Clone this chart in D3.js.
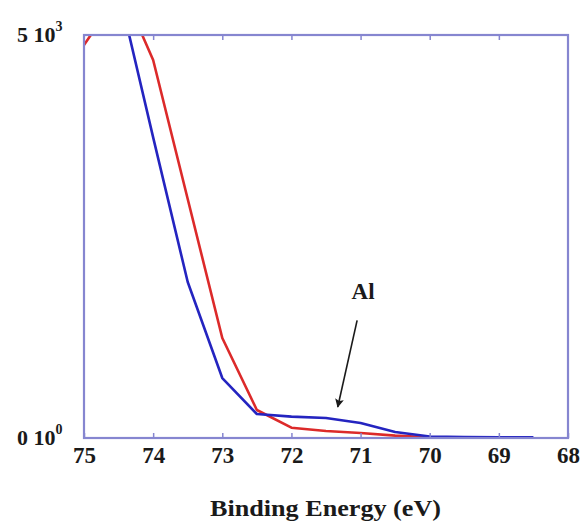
<!DOCTYPE html>
<html>
<head>
<meta charset="utf-8">
<script src="https://cdn.jsdelivr.net/npm/d3@7"></script>
<style>
  html, body { margin: 0; padding: 0; background: #fff; }
  svg { display: block; }
  svg text { font-family: "Liberation Serif", "Times New Roman", Times, serif; font-weight: 700; fill: #1a1a1a; }
</style>
</head>
<body>
<svg id="chart" width="587" height="528"></svg>
<script>
// ---- data ----
const energy = [75, 74.5, 74, 73.5, 73, 72.5, 72, 71.5, 71, 70.5, 70, 69.5, 69, 68.5];
const blueCounts = [7300, 5560, 3730, 1935, 744, 298, 265, 248, 186, 74, 18, 12, 10, 10];
const redEnergy = [75, 74.5, 74.25, 74, 73.5, 73, 72.5, 72, 71.5, 71, 70.5, 70];
const redCounts = [4876, 5505, 5180, 4690, 2965, 1241, 347, 128, 87, 62, 30, 10];
const xTicks = [75, 74, 73, 72, 71, 70, 69, 68];
const yTickValues = [0, 5000];
const yTickMantissa = ["0", "5"];
const yTickExponent = ["0", "3"];
const xTitle = "Binding Energy (eV)";
const annotationText = "Al";
const annotationPoint = [71.33, 385];   // energy, counts at arrow tip
const annotationFrom = [71.05, 1460];

// ---- layout ----
const svg = d3.select("#chart");
const L = 84, R = 568, T = 35, B = 438;
const x = d3.scaleLinear().domain([75, 68]).range([L, R]);
const y = d3.scaleLinear().domain([0, 5000]).range([B, T]);
const frameColor = "#8686d0";

svg.append("defs").append("clipPath").attr("id", "plotclip")
  .append("rect").attr("x", L).attr("y", T).attr("width", R - L).attr("height", B - T);

const line = d3.line().x(d => x(d[0])).y(d => y(d[1]));

const plot = svg.append("g").attr("clip-path", "url(#plotclip)");
plot.append("path")
  .datum(redEnergy.map((e, i) => [e, redCounts[i]]))
  .attr("d", line).attr("fill", "none").attr("stroke", "#dc2a2a")
  .attr("stroke-width", 2.6).attr("stroke-linejoin", "round");
plot.append("path")
  .datum(energy.map((e, i) => [e, blueCounts[i]]))
  .attr("d", line).attr("fill", "none").attr("stroke", "#2424c0")
  .attr("stroke-width", 2.6).attr("stroke-linejoin", "round");

// ---- frame & axes ----
const xAxisB = d3.axisBottom(x).tickValues(xTicks).tickSize(-5).tickPadding(12).tickFormat(d3.format("d"));
const gx = svg.append("g").attr("transform", `translate(0,${B})`).call(xAxisB)
  .attr("font-family", null).attr("font-size", null);
gx.select(".domain").remove();
gx.selectAll(".tick line").attr("stroke", frameColor).attr("stroke-width", 1.5);
gx.selectAll(".tick text").style("font-size", "23px").attr("fill", "#1a1a1a")
  .attr("y", 25).attr("dy", 0);

const xAxisT = d3.axisTop(x).tickValues(xTicks.slice(1, -1)).tickSize(-5).tickFormat("");
const gt = svg.append("g").attr("transform", `translate(0,${T})`).call(xAxisT);
gt.select(".domain").remove();
gt.selectAll(".tick line").attr("stroke", frameColor).attr("stroke-width", 1.5);

svg.append("rect").attr("x", L).attr("y", T).attr("width", R - L).attr("height", B - T)
  .attr("fill", "none").attr("stroke", frameColor).attr("stroke-width", 2.2);

// y labels "m 10^e"
const yl = svg.append("g");
yTickValues.forEach((v, i) => {
  const t = yl.append("text").attr("x", 17).attr("y", y(v) + 7).style("font-size", "22px");
  t.append("tspan").text(yTickMantissa[i] + " 10");
  t.append("tspan").attr("dy", -11).style("font-size", "14px").text(yTickExponent[i]);
});

// x title
svg.append("text").attr("x", 210).attr("y", 516).style("font-size", "24px")
  .attr("textLength", 231).attr("lengthAdjust", "spacingAndGlyphs").text(xTitle);

// annotation
svg.append("text").attr("x", x(annotationFrom[0]) + 6).attr("y", 299).attr("text-anchor", "middle")
  .style("font-size", "23px").text(annotationText);
svg.append("defs").append("marker").attr("id", "ah").attr("viewBox", "0 0 10 10")
  .attr("refX", 9).attr("refY", 5).attr("markerWidth", 5.5).attr("markerHeight", 5.5)
  .attr("orient", "auto").append("path").attr("d", "M0,0 L10,5 L0,10 L2,5 Z").attr("fill", "#1a1a1a");
svg.append("line")
  .attr("x1", x(annotationFrom[0])).attr("y1", y(annotationFrom[1]))
  .attr("x2", x(annotationPoint[0])).attr("y2", y(annotationPoint[1]))
  .attr("stroke", "#1a1a1a").attr("stroke-width", 1.6).attr("marker-end", "url(#ah)");
</script>
</body>
</html>
